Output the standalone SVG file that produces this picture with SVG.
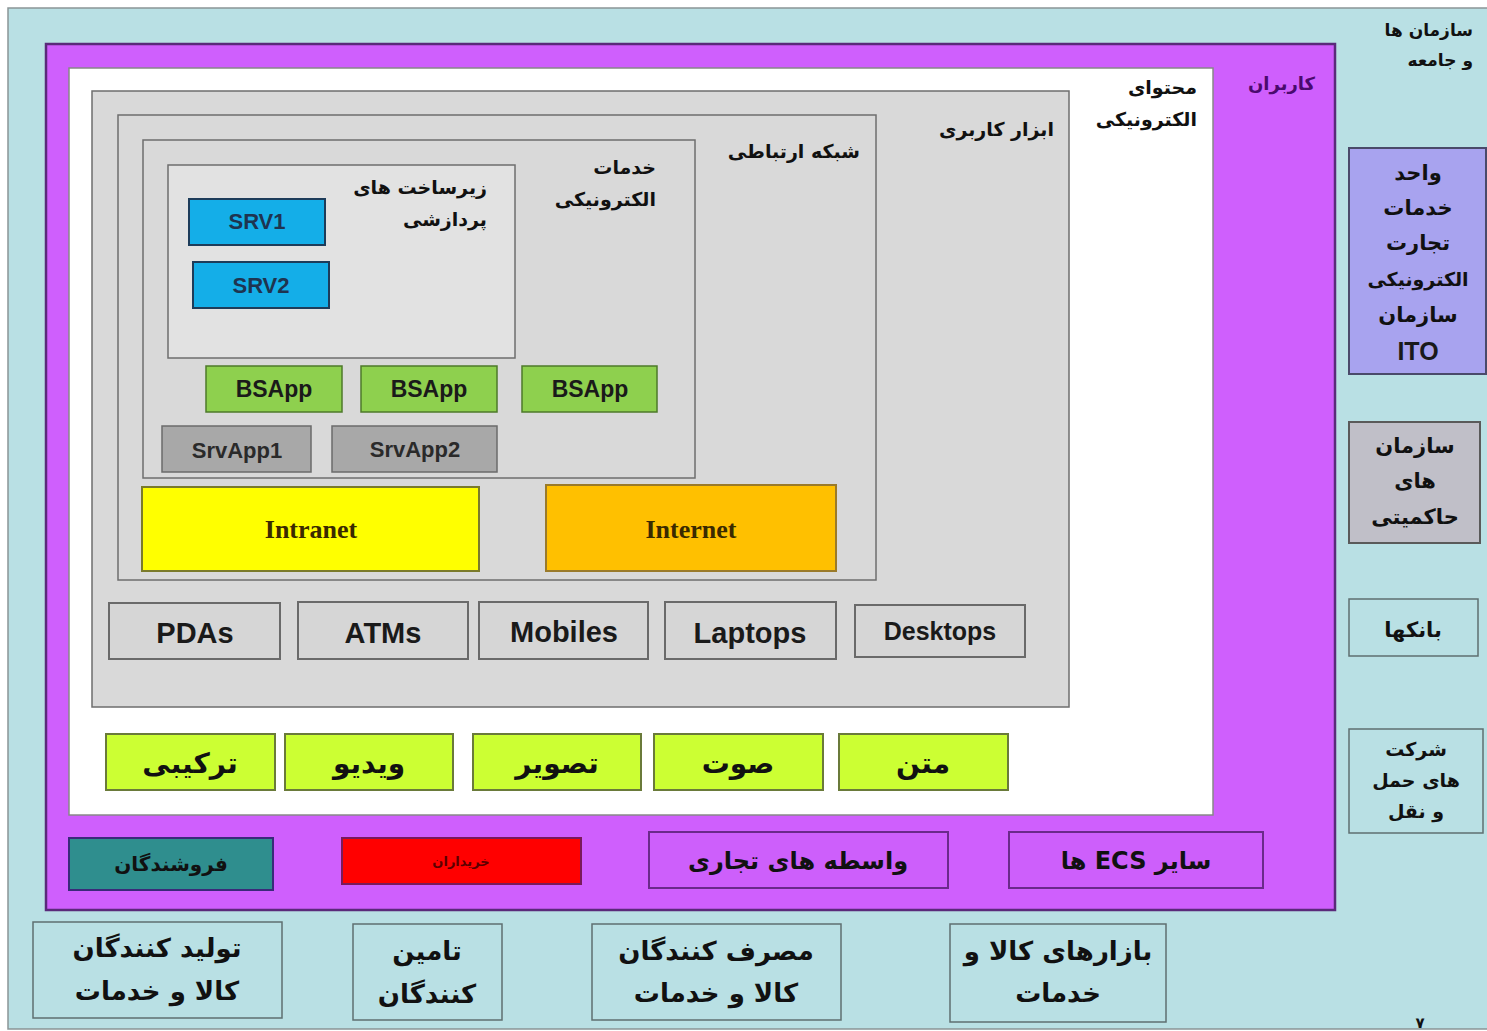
<svg xmlns="http://www.w3.org/2000/svg" width="1487" height="1031" viewBox="0 0 1487 1031">
<style>
.ar{font-family:"DejaVu Sans",sans-serif;font-weight:bold;fill:#111}
.la{font-family:"Liberation Sans",Arial,sans-serif;font-weight:bold;fill:#1a1a1a}
.se{font-family:"Liberation Serif","Times New Roman",serif;font-weight:bold;fill:#3a2a00}
.cy{fill:#b9e0e4;stroke:#5f6f70;stroke-width:1.5}
.gr{fill:#d9d9d9;stroke:#6e6e6e;stroke-width:1.5}
.lg{fill:#e2e2e2;stroke:#6e6e6e;stroke-width:1.5}
.srv{fill:#14aee8;stroke:#1d3c5a;stroke-width:2}
.bs{fill:#8ed04e;stroke:#4d7a2a;stroke-width:1.5}
.sa{fill:#a8a8a8;stroke:#6b6b6b;stroke-width:1.5}
.dev{fill:#d6d6d6;stroke:#6a6a6a;stroke-width:2}
.med{fill:#ccff33;stroke:#6a7a3a;stroke-width:2}
.pu{fill:#cd5ffb;stroke:#6a2a8a;stroke-width:2}
</style>
<rect x="0" y="0" width="1487" height="1031" fill="#ffffff"/>
<rect x="8" y="8" width="1500" height="1021" fill="#b9e0e4" stroke="#8a9596" stroke-width="1.5"/>
<text class="ar" x="1473" y="36" font-size="17" text-anchor="end">سازمان ها</text>
<text class="ar" x="1473" y="66" font-size="17" text-anchor="end">و جامعه</text>
<text class="ar" x="1420" y="1028" font-size="15" text-anchor="middle">۷</text>

<g id="kaarbaran">
<rect x="46" y="44" width="1289" height="866" fill="#cf5ffd" stroke="#5a2a7a" stroke-width="2.5"/>
<text class="ar" x="1315" y="90" font-size="18" text-anchor="end" style="fill:#4a0a6e">کاربران</text>
</g>
<g id="mohtava">
<rect x="69" y="68" width="1144" height="747" fill="#ffffff" stroke="#888" stroke-width="1.5"/>
<text class="ar" x="1197" y="94" font-size="19" text-anchor="end">محتوای</text>
<text class="ar" x="1197" y="126" font-size="19" text-anchor="end">الکترونیکی</text>
</g>
<g id="abzar">
<rect x="92" y="91" width="977" height="616" class="gr"/>
<text class="ar" x="1054" y="136" font-size="19" text-anchor="end">ابزار کاربری</text>
</g>
<g id="shabake">
<rect x="118" y="115" width="758" height="465" class="gr"/>
<text class="ar" x="860" y="158" font-size="19" text-anchor="end">شبکه ارتباطی</text>
</g>
<g id="khadamat">
<rect x="143" y="140" width="552" height="338" class="gr"/>
<text class="ar" x="656" y="174" font-size="19" text-anchor="end">خدمات</text>
<text class="ar" x="656" y="206" font-size="19" text-anchor="end">الکترونیکی</text>
</g>
<g id="zirsakht">
<rect x="168" y="165" width="347" height="193" class="lg"/>
<text class="ar" x="487" y="194" font-size="19" text-anchor="end">زیرساخت های</text>
<text class="ar" x="487" y="226" font-size="19" text-anchor="end">پردازشی</text>
</g>
<g id="srv1"><rect x="189" y="199" width="136" height="46" class="srv"/><text class="la" x="257" y="229" font-size="22" text-anchor="middle" style="fill:#1e3450">SRV1</text></g>
<g id="srv2"><rect x="193" y="262" width="136" height="46" class="srv"/><text class="la" x="261" y="293" font-size="22" text-anchor="middle" style="fill:#1e3450">SRV2</text></g>
<g id="bsapp1"><rect x="206" y="366" width="136" height="46" class="bs"/><text class="la" x="274" y="397" font-size="23" text-anchor="middle">BSApp</text></g>
<g id="bsapp2"><rect x="361" y="366" width="136" height="46" class="bs"/><text class="la" x="429" y="397" font-size="23" text-anchor="middle">BSApp</text></g>
<g id="bsapp3"><rect x="522" y="366" width="135" height="46" class="bs"/><text class="la" x="590" y="397" font-size="23" text-anchor="middle">BSApp</text></g>
<g id="srvapp1"><rect x="162" y="426" width="149" height="46" class="sa"/><text class="la" x="237" y="458" font-size="22" text-anchor="middle" style="fill:#2a2a2a">SrvApp1</text></g>
<g id="srvapp2"><rect x="332" y="426" width="165" height="46" class="sa"/><text class="la" x="415" y="457" font-size="22" text-anchor="middle" style="fill:#2a2a2a">SrvApp2</text></g>
<g id="intranet"><rect x="142" y="487" width="337" height="84" fill="#ffff00" stroke="#7a7a2a" stroke-width="2"/><text class="se" x="311" y="538" font-size="26" text-anchor="middle">Intranet</text></g>
<g id="internet"><rect x="546" y="485" width="290" height="86" fill="#ffc000" stroke="#9a7a2a" stroke-width="2"/><text class="se" x="691" y="538" font-size="26" text-anchor="middle">Internet</text></g>
<g id="pdas"><rect x="109" y="603" width="171" height="56" class="dev"/><text class="la" x="195" y="643" font-size="29" text-anchor="middle">PDAs</text></g>
<g id="atms"><rect x="298" y="602" width="170" height="57" class="dev"/><text class="la" x="383" y="643" font-size="29" text-anchor="middle">ATMs</text></g>
<g id="mobiles"><rect x="479" y="602" width="169" height="57" class="dev"/><text class="la" x="564" y="642" font-size="29" text-anchor="middle">Mobiles</text></g>
<g id="laptops"><rect x="665" y="602" width="171" height="57" class="dev"/><text class="la" x="750" y="643" font-size="29" text-anchor="middle">Laptops</text></g>
<g id="desktops"><rect x="855" y="605" width="170" height="52" class="dev"/><text class="la" x="940" y="640" font-size="25" text-anchor="middle">Desktops</text></g>
<g id="tarkibi"><rect x="106" y="734" width="169" height="56" class="med"/><text class="ar" x="190" y="773" font-size="28" text-anchor="middle">ترکیبی</text></g>
<g id="video"><rect x="285" y="734" width="168" height="56" class="med"/><text class="ar" x="369" y="773" font-size="28" text-anchor="middle">ویدیو</text></g>
<g id="tasvir"><rect x="473" y="734" width="168" height="56" class="med"/><text class="ar" x="557" y="773" font-size="28" text-anchor="middle">تصویر</text></g>
<g id="sowt"><rect x="654" y="734" width="169" height="56" class="med"/><text class="ar" x="738" y="773" font-size="28" text-anchor="middle">صوت</text></g>
<g id="matn"><rect x="839" y="734" width="169" height="56" class="med"/><text class="ar" x="923" y="773" font-size="28" text-anchor="middle">متن</text></g>
<g id="forooshandegan"><rect x="69" y="838" width="204" height="52" fill="#2f8e8e" stroke="#3a2a7a" stroke-width="2"/><text class="ar" x="171" y="871" font-size="20" text-anchor="middle">فروشندگان</text></g>
<g id="kharidaran"><rect x="342" y="838" width="239" height="46" fill="#ff0000" stroke="#7a1a5a" stroke-width="2"/><text class="ar" x="461" y="866" font-size="13" text-anchor="middle" style="fill:#5a0000">خریداران</text></g>
<g id="vaseteha"><rect x="649" y="832" width="299" height="56" class="pu"/><text class="ar" x="798" y="869" font-size="24" text-anchor="middle">واسطه های تجاری</text></g>
<g id="sayerecs"><rect x="1009" y="832" width="254" height="56" class="pu"/><text class="ar" x="1136" y="869" font-size="24" text-anchor="middle" direction="rtl" unicode-bidi="embed">سایر ECS ها</text></g>
<g id="tolid"><rect x="33" y="922" width="249" height="96" class="cy"/><text class="ar" x="157" y="957" font-size="26" text-anchor="middle">تولید کنندگان</text><text class="ar" x="157" y="1000" font-size="26" text-anchor="middle">کالا و خدمات</text></g>
<g id="tamin"><rect x="353" y="924" width="149" height="96" class="cy"/><text class="ar" x="427" y="960" font-size="26" text-anchor="middle">تامین</text><text class="ar" x="427" y="1003" font-size="26" text-anchor="middle">کنندگان</text></g>
<g id="masraf"><rect x="592" y="924" width="249" height="96" class="cy"/><text class="ar" x="716" y="960" font-size="26" text-anchor="middle">مصرف کنندگان</text><text class="ar" x="716" y="1002" font-size="26" text-anchor="middle">کالا و خدمات</text></g>
<g id="bazar"><rect x="950" y="924" width="216" height="98" class="cy"/><text class="ar" x="1058" y="960" font-size="26" text-anchor="middle">بازارهای کالا و</text><text class="ar" x="1058" y="1002" font-size="26" text-anchor="middle">خدمات</text></g>
<g id="vahed"><rect x="1349" y="148" width="137" height="226" fill="#a8a3ef" stroke="#4a4a6a" stroke-width="2"/>
<text class="ar" x="1418" y="180" font-size="21" text-anchor="middle">واحد</text>
<text class="ar" x="1418" y="215" font-size="21" text-anchor="middle">خدمات</text>
<text class="ar" x="1418" y="250" font-size="21" text-anchor="middle">تجارت</text>
<text class="ar" x="1418" y="286" font-size="19" text-anchor="middle">الکترونیکی</text>
<text class="ar" x="1418" y="322" font-size="21" text-anchor="middle">سازمان</text>
<text class="la" x="1418" y="360" font-size="25" text-anchor="middle">ITO</text></g>
<g id="hakemiyati"><rect x="1349" y="422" width="131" height="121" fill="#c0bfc8" stroke="#5a5a5a" stroke-width="2"/>
<text class="ar" x="1415" y="453" font-size="21" text-anchor="middle">سازمان</text>
<text class="ar" x="1415" y="488" font-size="21" text-anchor="middle">های</text>
<text class="ar" x="1415" y="524" font-size="21" text-anchor="middle">حاکمیتی</text></g>
<g id="bankha"><rect x="1349" y="599" width="129" height="57" class="cy"/><text class="ar" x="1413" y="637" font-size="21" text-anchor="middle">بانکها</text></g>
<g id="haml"><rect x="1349" y="729" width="134" height="104" class="cy"/>
<text class="ar" x="1416" y="756" font-size="19" text-anchor="middle">شرکت</text>
<text class="ar" x="1416" y="787" font-size="19" text-anchor="middle">های حمل</text>
<text class="ar" x="1416" y="818" font-size="19" text-anchor="middle">و نقل</text></g>
<g id="connectors"></g>
</svg>
